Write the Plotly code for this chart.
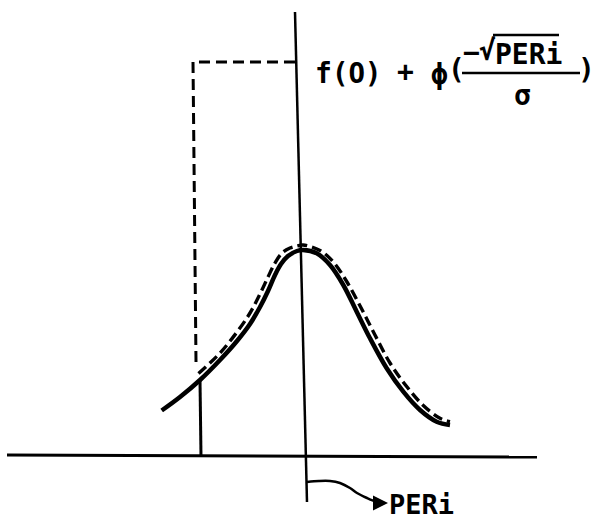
import plotly.graph_objects as go

# Diagram coordinates: origin where the two axes cross, one unit ~ one pixel.
# Horizontal and vertical axes
h_axis_x = [-298, 232]
h_axis_y = [2, 0]
v_axis_x = [-10, 2]
v_axis_y = [445, -45]

# Solid curve (density f)
solid_x = [-143.3, -125, -105, -85, -68, -55, -45, -37, -30, -24, -17, -8, -2,
           11.7, 25, 38.3, 51.7, 65, 81.7, 98.3, 115, 131.7, 145]
solid_y = [46.5, 60, 77, 97, 116, 133, 150, 166, 182, 193, 201, 206, 207,
           203.7, 192, 172, 145.3, 118.7, 88.7, 65.3, 47, 35.3, 32]

# Dashed curve (shifted density)
dashed_x = [-106.5, -85, -68, -55, -45, -37, -30, -23, -15, -8, -2,
            15, 28.3, 41.7, 56.7, 70, 85, 101.7, 118.3, 135, 145]
dashed_y = [83.5, 104, 125, 144, 163, 180, 194, 204, 209, 211, 212,
            206.5, 195, 175.5, 148, 122, 94, 70.5, 51.5, 38.7, 35.3]

# Dashed guide (up from the curve, across to the vertical axis)
guide_x = [-109, -112, -9]
guide_y = [95, 395, 395]

# Solid drop line from curve to horizontal axis
drop_x = [-105, -104]
drop_y = [77, 0]

# Curly pointer to the PERi label
curl_x = [2, 14, 25, 35, 45, 52, 62, 72, 78]
curl_y = [-25, -24, -24, -26, -31, -36, -41, -45, -46]

# Formula pieces: (text, x, y)
formula_text = ["f(<span style='font-family:Noto Sans'>0</span>)", "+", "ϕ", "(", "−", "√", "PERi", "σ", ")"]
formula_x = [43, 100, 134, 151, 166, 182, 223, 217, 281]
formula_y = [385, 386, 383, 388, 405, 407, 403, 362, 388]
overline_x = [188, 254]
overline_y = [422, 422]
fraction_x = [157, 275]
fraction_y = [384, 384]

label_text = "PERi"
label_x = 116
label_y = -47

INK = "#000000"
FONT = "DejaVu Sans Mono"

fig = go.Figure()

def line(xs, ys, width, dash="solid", shape="linear"):
    fig.add_trace(go.Scatter(x=xs, y=ys, mode="lines", hoverinfo="skip",
                             line=dict(color=INK, width=width, dash=dash, shape=shape,
                                       smoothing=1.0 if shape == "spline" else None)))

line(h_axis_x, h_axis_y, 3)
line(v_axis_x, v_axis_y, 2.5)
line(guide_x, guide_y, 3, dash="11px,6px")
line(drop_x, drop_y, 3)
line(dashed_x, dashed_y, 3.4, dash="10px,5px", shape="spline")
line(solid_x, solid_y, 4.5, shape="spline")
line(curl_x, curl_y, 2.5, shape="spline")
line(overline_x, overline_y, 2.5)
line(fraction_x, fraction_y, 2.5)

for t, x, y in zip(formula_text, formula_x, formula_y):
    fig.add_annotation(x=x, y=y, text=t, showarrow=False, xanchor="center", yanchor="middle",
                       font=dict(family=FONT, size=28, color=INK, weight="bold"))

fig.add_annotation(x=label_x, y=label_y, text=label_text, showarrow=False,
                   xanchor="center", yanchor="middle",
                   font=dict(family=FONT, size=27, color=INK, weight="bold"))

# arrow head at end of curly pointer
fig.add_annotation(x=curl_x[-1] + 5, y=curl_y[-1], ax=curl_x[-1] - 4, ay=curl_y[-1],
                   xref="x", yref="y", axref="x", ayref="y", text="", showarrow=True,
                   arrowhead=2, arrowsize=1.2, arrowwidth=2.5, arrowcolor=INK)

fig.update_layout(
    width=594, height=521, margin=dict(l=0, r=0, t=0, b=0),
    paper_bgcolor="white", plot_bgcolor="white", showlegend=False,
    xaxis=dict(range=[-305, 289], visible=False, fixedrange=True),
    yaxis=dict(range=[-64, 457], visible=False, fixedrange=True),
)

fig.write_html("out.html")
